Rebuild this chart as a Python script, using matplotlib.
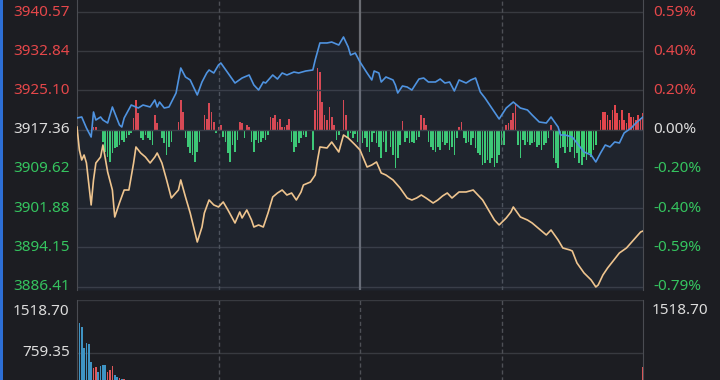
import numpy as np
import matplotlib
matplotlib.use('Agg')
from matplotlib import pyplot as plt

plt.rcParams['font.family'] = ['Noto Sans', 'DejaVu Sans']

# axis levels (left: price, right: change vs previous close)
price_ticks = [3940.57, 3932.84, 3925.10, 3917.36, 3909.62, 3901.88, 3894.15, 3886.41]
pct_labels = ['0.59%', '0.40%', '0.20%', '0.00%', '-0.20%', '-0.40%', '-0.59%', '-0.79%']
prev_close = 3917.36
vol_ticks = [1518.70, 759.35]

# index line (blue): minute of session, price
blue_min = [0, 2, 4, 6, 7, 8, 10, 11, 13, 15, 16, 18, 19, 20, 23, 26, 28, 31, 33, 34,
	35, 37, 39, 42, 44, 46, 48, 51, 53, 55, 56, 58, 60, 61, 64, 67, 70, 73, 75, 77,
	79, 80, 83, 85, 87, 89, 92, 94, 97, 100, 101, 103, 106, 108, 111, 113, 115, 116, 118, 120,
	123, 125, 126, 128, 129, 131, 134, 135, 136, 138, 140, 142, 145, 147, 149, 152, 154, 156, 158, 160,
	162, 165, 167, 169, 171, 173, 175, 177, 179, 182, 185, 188, 191, 193, 196, 199, 201, 204, 205, 207,
	210, 212, 215, 218, 220, 222, 224, 226, 228, 230, 232, 235, 237, 239, 240]
blue_val = [3919.66, 3919.86, 3917.69, 3915.91, 3920.84, 3919.26, 3919.86, 3919.26, 3918.67, 3921.83,
	3920.65, 3918.28, 3917.88, 3919.66, 3922.22, 3921.63, 3922.22, 3921.83, 3923.21, 3921.83,
	3922.81, 3921.63, 3921.83, 3924.59, 3929.52, 3927.75, 3927.16, 3924.20, 3926.76, 3928.54,
	3929.13, 3928.54, 3930.12, 3930.51, 3928.54, 3926.56, 3927.55, 3928.14, 3926.17, 3925.18,
	3926.76, 3926.56, 3928.14, 3927.35, 3928.54, 3928.14, 3928.73, 3928.54, 3928.93, 3929.13,
	3931.10, 3934.46, 3934.46, 3934.65, 3934.06, 3935.64, 3933.67, 3932.09, 3932.48, 3930.71,
	3928.54, 3927.16, 3928.93, 3928.54, 3926.76, 3927.75, 3927.16, 3926.17, 3924.59, 3925.97,
	3925.77, 3925.18, 3927.35, 3927.55, 3926.76, 3926.76, 3927.35, 3926.56, 3926.76, 3924.99,
	3927.16, 3926.56, 3927.16, 3927.55, 3924.79, 3923.60, 3922.22, 3920.84, 3919.46, 3921.63,
	3922.81, 3921.63, 3921.24, 3920.25, 3918.87, 3918.67, 3919.86, 3917.88, 3916.30, 3916.30,
	3915.91, 3914.72, 3912.95, 3912.36, 3910.98, 3912.75, 3914.33, 3913.94, 3914.93, 3914.73,
	3916.70, 3917.69, 3918.67, 3919.46, 3919.86]

# second index line (orange)
orange_min = [0, 1, 2, 3, 4, 6, 7, 8, 10, 11, 13, 15, 16, 18, 20, 22, 24, 25, 27, 29,
	31, 33, 34, 36, 38, 40, 43, 44, 46, 48, 51, 53, 54, 56, 58, 60, 62, 64, 67, 69,
	70, 72, 74, 75, 77, 79, 81, 83, 85, 87, 89, 91, 93, 95, 96, 99, 101, 102, 103, 106,
	108, 111, 113, 115, 118, 120, 123, 125, 127, 129, 131, 134, 137, 140, 142, 144, 146, 148, 151, 153,
	155, 157, 159, 162, 165, 168, 170, 172, 175, 177, 179, 182, 184, 185, 188, 191, 193, 196, 199, 201,
	204, 206, 209, 210, 212, 215, 218, 220, 221, 223, 225, 227, 230, 233, 236, 239, 240]
orange_val = [3917.88, 3913.35, 3911.37, 3912.36, 3910.78, 3902.50, 3907.43, 3910.78, 3911.96, 3914.33,
	3909.00, 3905.45, 3900.13, 3902.90, 3905.45, 3905.45, 3910.78, 3913.94, 3912.75, 3911.96,
	3910.78, 3911.96, 3912.75, 3910.78, 3907.43, 3903.87, 3905.45, 3907.43, 3904.07, 3900.91,
	3895.19, 3898.15, 3900.91, 3903.48, 3902.50, 3902.10, 3903.09, 3901.51, 3898.94, 3901.11,
	3899.93, 3901.51, 3899.53, 3898.15, 3898.55, 3898.15, 3900.91, 3904.07, 3904.86, 3905.45,
	3904.46, 3904.86, 3903.48, 3905.06, 3906.44, 3907.03, 3908.41, 3911.37, 3913.94, 3913.74,
	3914.92, 3912.95, 3916.30, 3915.71, 3914.33, 3913.35, 3909.99, 3910.39, 3910.98, 3908.81,
	3908.41, 3907.43, 3905.85, 3903.87, 3903.48, 3903.87, 3904.46, 3903.87, 3902.89, 3903.48,
	3904.27, 3904.86, 3903.87, 3905.06, 3905.06, 3905.45, 3904.46, 3903.48, 3901.11, 3899.53,
	3898.55, 3899.93, 3901.11, 3902.10, 3900.13, 3899.53, 3898.94, 3897.76, 3896.58, 3897.56,
	3895.59, 3894.01, 3893.62, 3893.42, 3891.05, 3889.08, 3887.70, 3886.32, 3886.71, 3888.68,
	3890.07, 3891.25, 3893.03, 3894.01, 3895.59, 3897.17, 3897.36]

# red/green bars, one per minute (positive = red)
flow_val = [0, 0, 0, 0, 0, 0, 0, 3, 3, 0,
	0, -12, -22, -27, -32, -23, -18, -17, -15, -10,
	-12, -8, -5, -3, 12, 30, 17, -8, -10, -5,
	-8, -10, -15, 15, 7, 0, -8, -13, -25, -17,
	-12, 0, 0, 8, 30, 18, -8, -17, -23, -25,
	-32, -22, -12, 0, 15, 11, 27, 18, 8, -3,
	3, 5, -7, -12, -23, -32, -15, -22, -10, 8,
	7, -8, 5, 3, -12, -22, -10, -13, -12, -8,
	-10, -5, 13, 12, 15, 8, 11, 3, 3, 5,
	11, -12, -22, -17, -13, -8, -5, -7, 0, 0,
	-20, 20, 62, 58, 28, 15, 10, 23, 13, 5,
	-10, -5, 0, 30, 15, -8, -3, -8, -4, -12,
	-15, -13, -8, -17, -22, -12, -3, -13, -17, -28,
	-12, -22, 0, -17, -25, -38, -28, -15, 9, -12,
	-8, -13, -12, -13, -10, -7, 15, 12, 5, -12,
	-17, -20, -22, -17, -20, -12, -15, -13, -20, -17,
	-25, -8, 3, 8, -8, -13, -12, -15, -8, -18,
	-23, -25, -35, -33, -30, -33, -28, -37, -33, -25,
	-15, -15, 5, 7, 10, 17, 27, -15, -28, -10,
	-15, -12, -15, -13, -12, -17, -15, -20, -15, -13,
	-8, 5, -28, -33, -38, -18, -17, -23, -17, -22,
	-17, -28, -23, -33, -35, -27, -30, -23, -27, -20,
	-15, 0, 10, 18, 18, 15, 10, 20, 25, 17,
	10, 20, 10, 7, 17, 13, 13, 10, 15, 12,
	17]

# volume bars (only the visible ones)
vol_min = [0, 1, 2, 3, 4, 5, 6, 7, 8, 9, 10, 11, 12, 13, 14, 15, 16, 17, 18, 19, 20, 240]
vol_val = [1518.70, 1189, 1132, 831, 903, 888, 630, 544, 559, 487, 573, 587, 587, 487, 516, 573,
	444, 415, 400, 390, 380, 559]
vol_up = [1, 0, 0, 0, 0, 0, 0, 1, 1, 0, 0, 0, 0, 1, 1, 1, 0, 0, 1, 0, 1, 1]

BG = '#1c1d22'
GRID = '#383a40'
RED = '#e5474a'
GREEN = '#35c45f'
WHITE = '#dcdcdc'


def label_color(v):
	if abs(v - prev_close) < 0.01:
		return WHITE
	return RED if v > prev_close else GREEN


def main():
	W, H = 720, 380
	fig = plt.figure(figsize=(7.2, 3.8), dpi=100, facecolor=BG)
	x0, x1 = 77, 643

	# ---- main panel (pixel rows 0..290)
	ax = fig.add_axes([x0 / W, 1 - 290 / H, (x1 - x0) / W, 290 / H])
	ax.set_facecolor(BG)
	ax.set_xlim(0, 240)
	ax.set_ylim(3885.72, 3942.94)
	for v in price_ticks:
		ax.axhline(v, color=GRID, lw=1, zorder=1)
	ax.axvline(60, color='#4e5056', lw=1, ls=(0, (3, 2)), zorder=1)
	ax.axvline(120, color='#6a6c72', lw=1.6, zorder=1)
	ax.axvline(180, color='#4e5056', lw=1, ls=(0, (3, 2)), zorder=1)

	# bars on a twin axis so their zero sits on the previous close
	axb = ax.twinx()
	axb.set_ylim(-160.4, 129.6)
	mins = np.arange(len(flow_val))
	flow = np.array(flow_val)
	axb.bar(mins, flow, width=0.7, color=np.where(flow > 0, '#e2464d', '#3ccf72'),
		linewidth=0, zorder=2)
	axb.axis('off')

	ax.set_zorder(axb.get_zorder() + 1)
	ax.patch.set_visible(False)

	ax.fill_between(blue_min, blue_val, 3885.72, color='#4a78b8', alpha=0.08, lw=0, zorder=2)
	ax.plot(blue_min, blue_val, color='#4f93e0', lw=1.2, zorder=4)
	ax.plot(orange_min, orange_val, color='#eec48e', lw=1.2, zorder=4)

	ax.set_xticks([])
	ax.set_yticks([])
	for s in ['top', 'bottom']:
		ax.spines[s].set_visible(False)
	for s in ['left', 'right']:
		ax.spines[s].set_color('#4a4c52')

	tr = ax.get_yaxis_transform()
	for v, p in zip(price_ticks, pct_labels):
		c = label_color(v)
		ax.text(-0.013, v, '%.2f' % v, transform=tr, ha='right', va='center',
			color=c, fontsize=11, clip_on=False)
		ax.text(1.018, v, p, transform=tr, ha='left', va='center',
			color=c, fontsize=11, clip_on=False)

	# ---- volume panel (top at row 300, zero below the picture)
	axv = fig.add_axes([x0 / W, 1 - 406 / H, (x1 - x0) / W, 106 / H])
	axv.set_facecolor(BG)
	axv.set_xlim(0, 240)
	axv.set_ylim(0, 1518.70)
	for v in vol_ticks:
		axv.axhline(v, color=GRID, lw=1, zorder=1)
	axv.axvline(60, color='#4e5056', lw=1, ls=(0, (3, 2)), zorder=1)
	axv.axvline(120, color='#4e5056', lw=1, ls=(0, (3, 2)), zorder=1)
	axv.axvline(180, color='#4e5056', lw=1, ls=(0, (3, 2)), zorder=1)
	vcol = ['#e0585a' if u else '#3f94c4' for u in vol_up]
	axv.bar(vol_min, vol_val, width=0.7, color=vcol, linewidth=0, zorder=2)
	axv.set_xticks([])
	axv.set_yticks([])
	for s in ['top', 'bottom']:
		axv.spines[s].set_visible(False)
	for s in ['left', 'right']:
		axv.spines[s].set_color('#4a4c52')

	trv = axv.get_yaxis_transform()
	axv.annotate('%.2f' % vol_ticks[0], xy=(-0.013, vol_ticks[0]), xycoords=trv,
		xytext=(0, -3), textcoords='offset points', ha='right', va='top',
		color=WHITE, fontsize=11, annotation_clip=False)
	axv.annotate('%.2f' % vol_ticks[0], xy=(1.016, vol_ticks[0]), xycoords=trv,
		xytext=(0, -2), textcoords='offset points', ha='left', va='top',
		color=WHITE, fontsize=11, annotation_clip=False)
	axv.text(-0.013, vol_ticks[1], '%.2f' % vol_ticks[1], transform=trv, ha='right',
		va='center', color=WHITE, fontsize=11, clip_on=False)

	# thin blue strip on the far left edge
	fig.add_artist(plt.Rectangle((0, 0), 2.5 / W, 1, transform=fig.transFigure,
		color='#2d6fd6', lw=0))

	fig.savefig('out.png', dpi=100, facecolor=BG)


if __name__ == '__main__':
	main()
